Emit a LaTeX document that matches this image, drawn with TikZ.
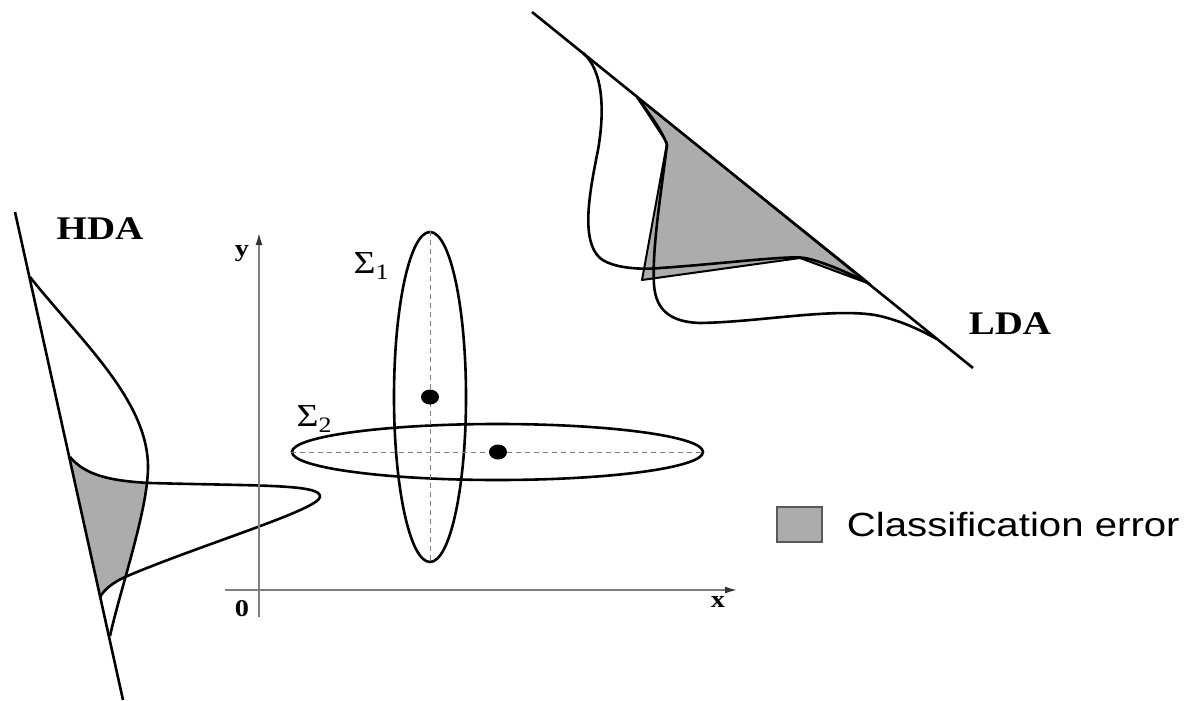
\documentclass[tikz,border=0pt]{standalone}
\usepackage{fontspec}
\setmainfont{Liberation Serif}
\newfontfamily\legendfont{Liberation Sans}
\usetikzlibrary{arrows.meta, positioning, shapes.geometric}
\definecolor{errgray}{RGB}{172,172,172}
\tikzstyle{density} = [
    line width=2.6pt,
    line join=round
]
\tikzstyle{projline} = [line width=2.6pt]
\tikzstyle{coordaxis} = [
    gray,
    line width=1.6pt,
    -{Latex[length=12pt,width=7pt,black!80]}
]
\tikzstyle{guide} = [gray, line width=1pt, dash pattern=on 5pt off 4pt]
\tikzstyle{covell} = [
    ellipse,
    draw,
    line width=2.6pt,
    inner sep=0pt
]
\tikzstyle{meanpt} = [
    ellipse,
    fill=black,
    minimum width=18pt,
    minimum height=15pt,
    inner sep=0pt
]
\tikzstyle{method} = [font=\bfseries\fontsize{33}{36}\selectfont, xscale=1.18]
\tikzstyle{greek} = [font=\fontsize{32}{34}\selectfont, xscale=1.18, inner sep=0pt]
\tikzstyle{axlbl} = [font=\bfseries\fontsize{24}{26}\selectfont, xscale=1.18]
\newcommand{\covlabel}[1]{Σ\raisebox{-6pt}{\fontsize{22}{24}\selectfont #1}}

\begin{document}
\begin{tikzpicture}[x=1pt, y=-1pt]
\useasboundingbox (0,0) rectangle (1194,701);

% HDA projection
\begin{scope}
\clip (30,277) .. controls (80,340) and (148,400) .. (148,467)
      .. controls (148,510) and (120,590) .. (110,636) -- cycle;
\fill[errgray] (70,457) .. controls (85,475) and (110,481) .. (150,483)
      .. controls (260,486) and (322,484) .. (320,497)
      .. controls (318,510) and (200,545) .. (125,577)
      .. controls (112,583) and (104,590) .. (100,597) -- cycle;
\end{scope}
\draw [projline] (15,212) -- (123,700);
\draw [density] (30,277) .. controls (80,340) and (148,400) .. (148,467)
      .. controls (148,510) and (120,590) .. (110,636);
\draw [density] (70,457) .. controls (85,475) and (110,481) .. (150,483)
      .. controls (260,486) and (322,484) .. (320,497)
      .. controls (318,510) and (200,545) .. (125,577)
      .. controls (112,583) and (104,590) .. (100,597);
\node (hda) [method] at (100,229) {HDA};

% LDA projection
\draw [density, fill=errgray, line width=2pt] (637,97) -- (667,143) -- (642,280)
      -- (800,258) -- (870,284) -- cycle;
\draw [projline] (532,12) -- (973,368);
\draw [density] (583,53) .. controls (603,70) and (605,110) .. (598,150)
      .. controls (590,190) and (580,240) .. (600,258)
      .. controls (612,268) and (640,270) .. (660,268)
      .. controls (720,264) and (790,255) .. (805,258)
      .. controls (825,262) and (855,276) .. (868,283);
\draw [density] (637,97) .. controls (650,115) and (662,130) .. (667,145)
      .. controls (660,200) and (652,250) .. (654,285)
      .. controls (656,310) and (670,322) .. (700,323)
      .. controls (760,322) and (830,308) .. (875,315)
      .. controls (900,320) and (920,330) .. (937,339);
\node (lda) [method] at (1010,324) {LDA};

% axes
\coordinate (xstart) at (225,590);
\coordinate (xend) at (737,590);
\coordinate (ystart) at (259,617);
\coordinate (yend) at (259,233);
\draw [coordaxis] (xstart) -- (xend);
\draw [coordaxis] (ystart) -- (yend);
\node (ylbl) [axlbl] at (242,254) {y};
\node (olbl) [axlbl] at (242,609) {0};
\node (xlbl) [axlbl] at (718,602) {x};

% covariances
\node (sig1) [covell, minimum width=72pt, minimum height=330pt] at (430,397) {};
\node (sig2) [covell, minimum width=411pt, minimum height=56pt] at (497.5,452) {};
\draw [guide] (sig1.north) -- (sig1.south);
\draw [guide] (sig2.west) -- (sig2.east);
\node (mu1) [meanpt] at (430,397) {};
\node (mu2) [meanpt] at (498,452) {};
\node (s1) [greek] at (371,266) {\covlabel{1}};
\node (s2) [greek] at (314,419) {\covlabel{2}};

% legend
\node (keybox) [draw=gray!70!black, fill=errgray, line width=1.2pt,
      minimum width=45pt, minimum height=35pt, inner sep=0pt] at (799.5,524.5) {};
\node (keytext) [right=24pt of keybox, inner sep=0pt, xscale=1.2,
      font=\legendfont\fontsize{33.5}{37}\selectfont] {Classification error};

\end{tikzpicture}
\end{document}
